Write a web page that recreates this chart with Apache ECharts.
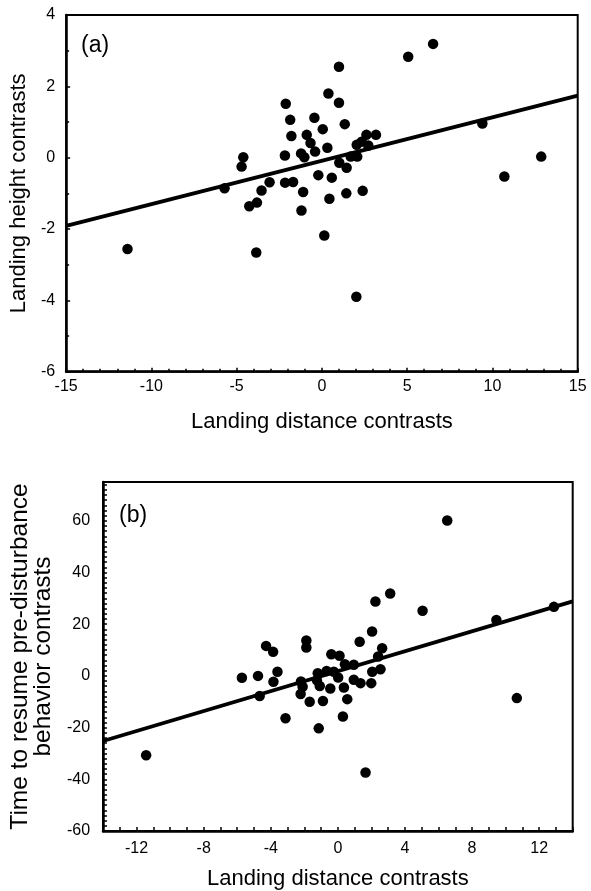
<!DOCTYPE html>
<html><head><meta charset="utf-8">
<script src="https://cdn.jsdelivr.net/npm/echarts@6/dist/echarts.min.js"></script>
<style>html,body{margin:0;padding:0;background:#fff}#c{width:591px;height:891px}</style>
</head><body><div id="c"></div>
<script>
// Panel (a): landing distance vs landing height contrasts
const aDistance = [-11.4, -5.71, -4.61, -4.71, -4.26, -3.81, -3.85, -3.54, -3.07, -2.16,
  -1.69, -2.17, -2.12, -1.86, -1.79, -1.20, -1.10, -1.22, -1.03, -0.89,
  -0.67, -0.44, 0.05, -0.40, -0.21, 0.32, 0.38, 0.58, 0.44, 0.14,
  1.00, 1.00, 1.34, 1.02, 1.45, 1.43, 1.69, 2.07, 2.04, 2.33,
  2.72, 2.61, 3.17, 2.39, 2.02, 5.06, 6.52, 9.41, 10.70, 12.86];
const aHeight = [-2.56, -0.86, 0.01, -0.25, -1.36, -1.26, -2.66, -0.92, -0.69, -0.70,
  -0.68, 0.06, 1.51, 1.06, 0.61, -1.48, -0.96, 0.12, 0.01, 0.64,
  0.41, 1.12, 0.80, 0.17, -0.49, 0.28, 1.80, -0.56, -1.15, -2.18,
  2.55, 1.54, 0.94, -0.14, -0.28, -1.00, 0.03, 0.03, 0.36, 0.45,
  0.34, 0.64, 0.64, -0.93, -3.90, 2.83, 3.19, 0.96, -0.53, 0.03];
const aFitX = [-15, 15];
const aFitY = [-1.91, 1.74];

// Panel (b): landing distance vs time to resume behavior contrasts
const bDistance = [-11.43, -5.72, -4.76, -4.66, -4.28, -3.86, -3.60, -3.84, -3.12, -2.20,
  -2.10, -2.22, -1.88, -1.88, -1.68, -1.20, -1.25, -1.08, -1.14, -0.89,
  -0.67, -0.45, -0.39, -0.24, 0.02, 0.10, 0.36, 0.42, 0.30, 0.56,
  0.95, 0.95, 1.30, 1.35, 1.99, 2.05, 2.54, 2.64, 2.40, 2.04,
  2.24, 3.12, 5.05, 6.52, 9.45, 12.88, 10.67, 1.65];
const bTime = [-30.7, -0.7, 0.0, -7.8, 11.6, 9.3, 1.6, -2.3, -16.4, -2.2,
  -4.2, -7.0, 13.7, 11.0, -10.0, 1.0, -1.7, -3.9, -20.3, -9.7,
  1.9, -4.9, 8.4, 1.6, -0.6, 7.8, -4.5, 4.5, -15.7, -9.0,
  4.3, -1.5, 13.2, -2.8, -2.8, 1.6, 2.6, 10.7, 7.5, 17.2,
  28.8, 31.9, 25.2, 60.1, 21.6, 26.7, -8.6, -37.4];
const bFitX = [-14, 14];
const bFitY = [-25.2, 28.8];

const bXLabels = [-12, -8, -4, 0, 4, 8, 12];
const bYLabels = [-60, -40, -20, 0, 20, 40, 60];

const zip = (xs, ys) => xs.map((x, i) => [x, ys[i]]);
const bXTicks = []; for (let v = -14; v <= 14; v += 1) bXTicks.push(v);
const bYTicks = []; for (let v = -60; v <= 74; v += 2) bYTicks.push(v);

const FONT = "'Liberation Sans', Arial, Helvetica, sans-serif";
const axisCommon = {
  axisLine: { show: true, onZero: false, lineStyle: { color: '#000', width: 2.5 } },
  axisTick: { show: true, inside: true, length: 4, lineStyle: { color: '#000', width: 1.5 } },
  minorTick: { show: true, length: 3, lineStyle: { color: '#000', width: 1.5 } },
  splitLine: { show: false },
  axisLabel: { color: '#000', fontSize: 16, fontFamily: FONT },
  nameTextStyle: { color: '#000', fontSize: 22, fontFamily: FONT },
  nameLocation: 'middle'
};

const chart = echarts.init(document.getElementById('c'));
chart.setOption({
  animation: false,
  backgroundColor: '#fff',
  grid: [
    { left: 65.5, top: 15, right: 13.3, bottom: 519.3, show: true, borderColor: '#000', borderWidth: 2 },
    { left: 101.7, top: 482, right: 18.3, bottom: 58.3, show: true, borderColor: '#000', borderWidth: 2 }
  ],
  xAxis: [
    Object.assign({}, axisCommon, {
      gridIndex: 0, type: 'value', min: -15, max: 15, interval: 5,
      minorTick: Object.assign({}, axisCommon.minorTick, { splitNumber: 5 }),
      axisLabel: Object.assign({}, axisCommon.axisLabel, { margin: 7 }),
      name: 'Landing distance contrasts', nameGap: 39
    }),
    Object.assign({}, axisCommon, {
      gridIndex: 1, type: 'value', min: -14, max: 14,
      axisTick: Object.assign({}, axisCommon.axisTick, { customValues: bXTicks }),
      minorTick: { show: false },
      axisLabel: Object.assign({}, axisCommon.axisLabel, { margin: 10, customValues: bXLabels }),
      name: 'Landing distance contrasts', nameGap: 37
    })
  ],
  yAxis: [
    Object.assign({}, axisCommon, {
      gridIndex: 0, type: 'value', min: -6, max: 4, interval: 2,
      minorTick: Object.assign({}, axisCommon.minorTick, { splitNumber: 2 }),
      axisLabel: Object.assign({}, axisCommon.axisLabel, { margin: 11 }),
      name: 'Landing height contrasts', nameGap: 32
    }),
    Object.assign({}, axisCommon, {
      gridIndex: 1, type: 'value', min: -60, max: 75,
      axisTick: Object.assign({}, axisCommon.axisTick, { customValues: bYTicks }),
      minorTick: { show: false },
      axisLabel: Object.assign({}, axisCommon.axisLabel, { margin: 13, customValues: bYLabels }),
      name: 'Time to resume pre-disturbance\nbehavior contrasts', nameGap: 44,
      nameTextStyle: Object.assign({}, axisCommon.nameTextStyle, { fontSize: 24.5, lineHeight: 23 })
    })
  ],
  graphic: [
    { type: 'text', left: 81, top: 34, style: { text: '(a)', fontSize: 23, fontFamily: FONT, fill: '#000' } },
    { type: 'text', left: 119, top: 504, style: { text: '(b)', fontSize: 23, fontFamily: FONT, fill: '#000' } }
  ],
  series: [
    { type: 'line', xAxisIndex: 0, yAxisIndex: 0, data: zip(aFitX, aFitY), symbol: 'none',
      lineStyle: { color: '#000', width: 3.8 }, z: 2 },
    { type: 'scatter', xAxisIndex: 0, yAxisIndex: 0, data: zip(aDistance, aHeight), symbolSize: 10.5,
      itemStyle: { color: '#000', opacity: 1 }, z: 3 },
    { type: 'line', xAxisIndex: 1, yAxisIndex: 1, data: zip(bFitX, bFitY), symbol: 'none',
      lineStyle: { color: '#000', width: 3.8 }, z: 2 },
    { type: 'scatter', xAxisIndex: 1, yAxisIndex: 1, data: zip(bDistance, bTime), symbolSize: 10.5,
      itemStyle: { color: '#000', opacity: 1 }, z: 3 }
  ]
});
</script>
</body></html>
